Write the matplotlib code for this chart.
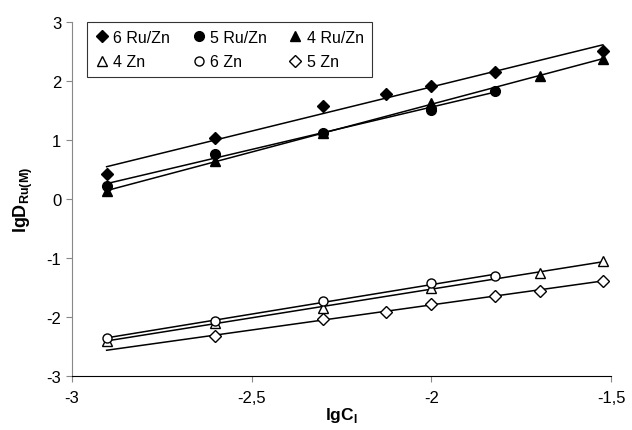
import numpy as np
import matplotlib.pyplot as plt

plt.rcParams['font.family'] = ['Liberation Sans', 'DejaVu Sans']

# lg of concentration
x_all = [-2.903, -2.602, -2.301, -2.125, -2.0, -1.824, -1.699, -1.523]

# Ru/Zn series
x_6ru = [-2.903, -2.602, -2.301, -2.125, -2.0, -1.824, -1.523]
y_6ru = [0.42, 1.03, 1.57, 1.77, 1.92, 2.15, 2.51]
x_5ru = [-2.903, -2.602, -2.301, -2.0, -1.824]
y_5ru = [0.22, 0.76, 1.12, 1.51, 1.83]
x_4ru = [-2.903, -2.602, -2.301, -2.0, -1.699, -1.523]
y_4ru = [0.13, 0.64, 1.11, 1.63, 2.08, 2.37]

# Zn series
x_4zn = [-2.903, -2.602, -2.301, -2.0, -1.699, -1.523]
y_4zn = [-2.40, -2.10, -1.85, -1.51, -1.25, -1.05]
x_6zn = [-2.903, -2.602, -2.301, -2.0, -1.824]
y_6zn = [-2.36, -2.06, -1.73, -1.42, -1.31]
x_5zn = [-2.602, -2.301, -2.125, -2.0, -1.824, -1.699, -1.523]
y_5zn = [-2.32, -2.03, -1.91, -1.78, -1.64, -1.55, -1.39]

series = [
    ("6 Ru/Zn", x_6ru, y_6ru, "D", "black", 6.5),
    ("5 Ru/Zn", x_5ru, y_5ru, "o", "black", 7),
    ("4 Ru/Zn", x_4ru, y_4ru, "^", "black", 7),
    ("4 Zn", x_4zn, y_4zn, "^", "white", 7),
    ("6 Zn", x_6zn, y_6zn, "o", "white", 6.5),
    ("5 Zn", x_5zn, y_5zn, "D", "white", 6),
]

fig = plt.figure(figsize=(6.32, 4.31), dpi=100)
ax = fig.add_axes([0.1135, 0.125, 0.8535, 0.822])

handles = {}
for name, xs, ys, m, fc, ms in series:
    # linear trend line
    k, b = np.polyfit(xs, ys, 1)
    x0 = min(x_all[0], xs[0])
    xl = np.array([x0, xs[-1]])
    ax.plot(xl, k * xl + b, color="black", lw=1.1, zorder=2)
    h, = ax.plot(xs, ys, linestyle="none", marker=m, markersize=ms,
                 markerfacecolor=fc, markeredgecolor="black", markeredgewidth=1.0,
                 zorder=3, label=name)
    handles[name] = h

ax.set_xlim(-3, -1.5)
ax.set_ylim(-3, 3)
ax.set_xticks([-3, -2.5, -2, -1.5])
ax.set_xticklabels(["-3", "-2,5", "-2", "-1,5"])
ax.set_yticks([-3, -2, -1, 0, 1, 2, 3])
ax.set_yticklabels(["-3", "-2", "-1", "0", "1", "2", "3"])
ax.tick_params(axis="both", labelsize=12, direction="out", length=4, color="#888888")
ax.tick_params(axis="x", pad=6)

ax.spines["top"].set_visible(False)
ax.spines["right"].set_visible(False)
ax.spines["left"].set_color("#888888")
ax.spines["bottom"].set_color("black")

ax.set_xlabel("lgC$_\\mathregular{I}$", fontsize=12.5, fontweight="bold", labelpad=0)
ax.set_ylabel("lgD$_\\mathregular{Ru(M)}$", fontsize=13, fontweight="bold", labelpad=8)

order = ["6 Ru/Zn", "4 Zn", "5 Ru/Zn", "6 Zn", "4 Ru/Zn", "5 Zn"]
leg = ax.legend([handles[n] for n in order], order, ncol=3, loc="upper left",
                bbox_to_anchor=(0.029, 1.0), borderaxespad=0, frameon=True,
                fancybox=False, edgecolor="black", fontsize=11.5, handlelength=0.8,
                handletextpad=0.3, columnspacing=1.4, borderpad=0.5,
                labelspacing=0.6)
leg.get_frame().set_linewidth(0.8)

fig.savefig("out.png", dpi=100)
